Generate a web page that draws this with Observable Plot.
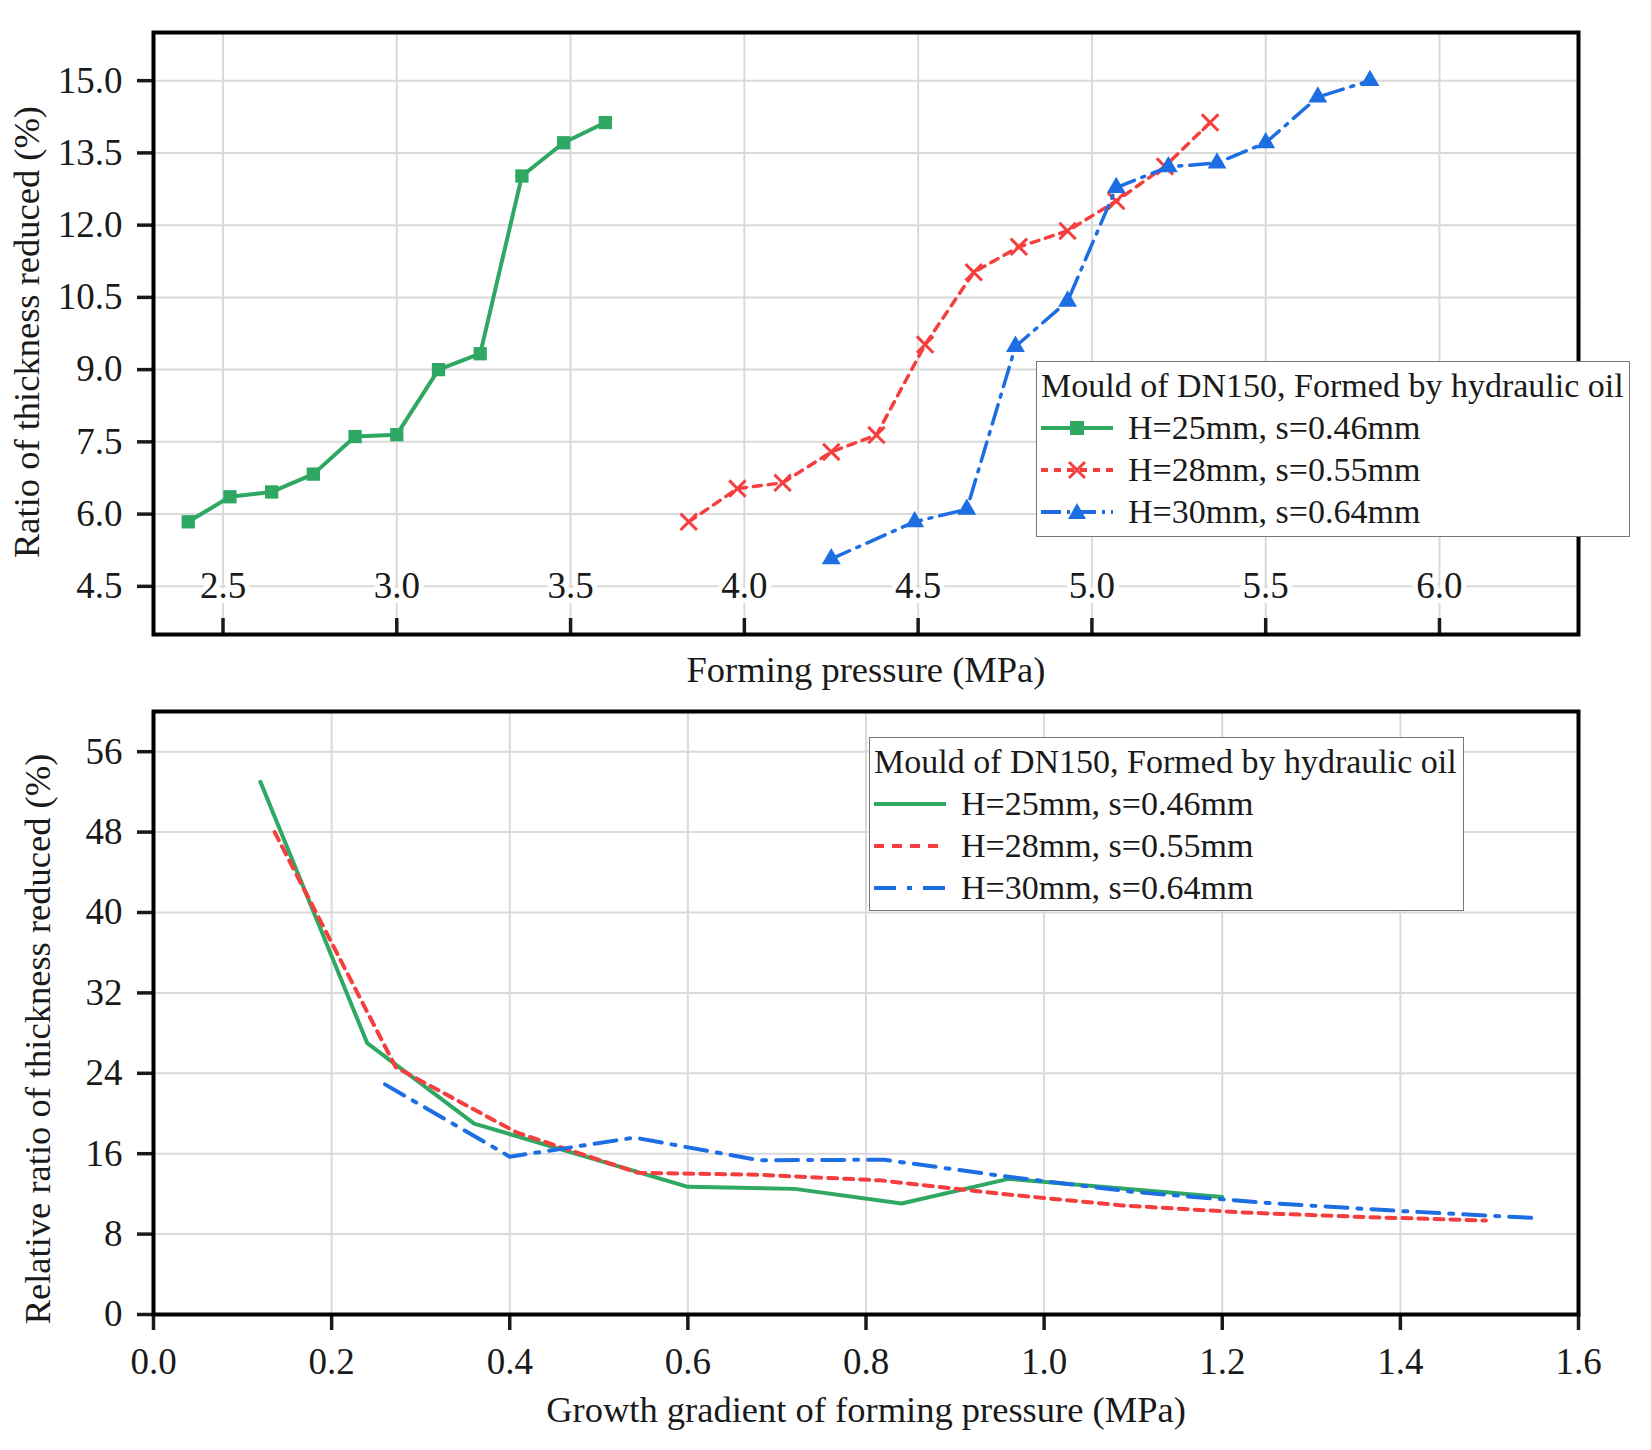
<!DOCTYPE html>
<html>
<head>
<meta charset="utf-8">
<script src="https://cdn.jsdelivr.net/npm/d3@7"></script>
<script src="https://cdn.jsdelivr.net/npm/@observablehq/plot@0.6"></script>
<style>
  body { margin: 0; background: #fff; }
  #fig { position: relative; width: 1651px; height: 1450px; font-family: "Liberation Serif", serif; color: #1a1a1a; }
  .chart { position: absolute; left: 0; }
  .title { position: absolute; font-size: 36.5px; white-space: nowrap; transform: translate(-50%, -50%); }
  .ytitle { position: absolute; font-size: 36.5px; white-space: nowrap; width: 800px; text-align: center; transform: translate(-50%, -50%) rotate(-90deg); }
  .legend { position: absolute; background: #fff; border: 1.5px solid #777; box-sizing: border-box; font-size: 34px; padding: 2px 4px; }
  .legend .head { height: 43px; line-height: 43px; }
  .legend .row { height: 42px; display: flex; align-items: center; }
  .legend .row svg { flex: none; margin-right: 15px; }
</style>
</head>
<body>
<div id="fig">
  <div id="top" class="chart" style="top:0"></div>
  <div id="bottom" class="chart" style="top:700px"></div>
  <div class="title" style="left:866px; top:669px">Forming pressure (MPa)</div>
  <div class="ytitle" style="left:26px; top:332px">Ratio of thickness reduced (%)</div>
  <div class="title" style="left:866px; top:1409px">Growth gradient of forming pressure (MPa)</div>
  <div class="ytitle" style="left:37px; top:1039px">Relative ratio of thickness reduced (%)</div>
  <div id="legendTop" class="legend" style="left:1036px; top:361px; width:594px; height:176px"></div>
  <div id="legendBottom" class="legend" style="left:869px; top:737px; width:595px; height:174px"></div>
</div>
<script>
const green = "#2ea862";
const red = "#f53e3e";
const blue = "#1d6de3";

const seriesNames = ["H=25mm, s=0.46mm", "H=28mm, s=0.55mm", "H=30mm, s=0.64mm"];
const legendTitle = "Mould of DN150, Formed by hydraulic oil";

// top chart: forming pressure vs ratio of thickness reduced
const pressureTicks = [2.5, 3.0, 3.5, 4.0, 4.5, 5.0, 5.5, 6.0];
const ratioTicks = [4.5, 6.0, 7.5, 9.0, 10.5, 12.0, 13.5, 15.0];

const h25Pressure = [2.40, 2.52, 2.64, 2.76, 2.88, 3.00, 3.12, 3.24, 3.36, 3.48, 3.60];
const h25Ratio = [5.84, 6.36, 6.46, 6.83, 7.61, 7.65, 9.00, 9.33, 13.02, 13.71, 14.13];

const h28Pressure = [3.84, 3.98, 4.11, 4.25, 4.38, 4.52, 4.66, 4.79, 4.93, 5.07, 5.21, 5.34];
const h28Ratio = [5.84, 6.53, 6.65, 7.29, 7.64, 9.52, 11.02, 11.55, 11.88, 12.50, 13.22, 14.13];

const h30Pressure = [4.25, 4.49, 4.64, 4.78, 4.93, 5.07, 5.22, 5.36, 5.50, 5.65, 5.80];
const h30Ratio = [5.07, 5.84, 6.10, 9.48, 10.42, 12.78, 13.21, 13.29, 13.71, 14.66, 15.00];

// bottom chart: growth gradient vs relative ratio
const gradientTicks = [0.0, 0.2, 0.4, 0.6, 0.8, 1.0, 1.2, 1.4, 1.6];
const relativeTicks = [0, 8, 16, 24, 32, 40, 48, 56];

const h25Gradient = [0.12, 0.24, 0.36, 0.60, 0.72, 0.84, 0.96, 1.20];
const h25Relative = [53.0, 27.0, 19.0, 12.7, 12.5, 11.05, 13.5, 11.7];

const h28Gradient = [0.136, 0.272, 0.408, 0.544, 0.68, 0.816, 0.952, 1.088, 1.224, 1.36, 1.496];
const h28Relative = [48.0, 24.6, 18.1, 14.1, 13.9, 13.35, 12.0, 10.85, 10.15, 9.7, 9.35];

const h30Gradient = [0.26, 0.40, 0.54, 0.68, 0.82, 0.96, 1.10, 1.25, 1.40, 1.55];
const h30Relative = [22.9, 15.7, 17.6, 15.35, 15.4, 13.7, 12.2, 11.1, 10.3, 9.6];

const pairs = (xs, ys) => xs.map((x, i) => ({x, y: ys[i]}));

const style = {
    fontFamily: "Liberation Serif",
    fontSize: "37px",
    color: "#1a1a1a",
    background: "none",
    overflow: "visible",
};
const gridStyle = {stroke: "#dadada", strokeOpacity: 1, strokeWidth: 2};
const fmt1 = d3.format(".1f");

const topChart = Plot.plot({
    width: 1651,
    height: 700,
    marginLeft: 153,
    marginRight: 73,
    marginTop: 32,
    marginBottom: 66,
    style,
    x: {domain: [2.3, 6.4]},
    y: {domain: [3.5, 16.0]},
    marks: [
        Plot.gridX(pressureTicks, gridStyle),
        Plot.gridY(ratioTicks, gridStyle),
        // x labels sit inside the frame, on the 4.5 line
        Plot.text(pressureTicks, {
            x: (d) => d,
            y: () => 4.5,
            text: fmt1,
            fill: "#1a1a1a",
            stroke: "white",
            strokeWidth: 10,
            fontSize: 37,
        }),
        Plot.axisX(pressureTicks, {
            anchor: "bottom",
            tickSize: 16,
            dy: -16,
            tickFormat: () => "",
            strokeWidth: 3.5,
            label: null,
        }),
        Plot.axisY(ratioTicks, {
            anchor: "left",
            tickSize: 16,
            tickPadding: 15,
            tickFormat: fmt1,
            strokeWidth: 3.5,
            fontSize: 37,
            label: null,
        }),
        Plot.frame({stroke: "black", strokeWidth: 4}),

        Plot.line(pairs(h25Pressure, h25Ratio), {x: "x", y: "y", stroke: green, strokeWidth: 4}),
        Plot.dot(pairs(h25Pressure, h25Ratio), {x: "x", y: "y", symbol: "square", fill: green, r: 7.5}),

        Plot.line(pairs(h28Pressure, h28Ratio), {x: "x", y: "y", stroke: red, strokeWidth: 3.5, strokeDasharray: "8,7"}),
        Plot.dot(pairs(h28Pressure, h28Ratio), {x: "x", y: "y", symbol: "times", stroke: red, strokeWidth: 3, r: 7.5}),

        Plot.line(pairs(h30Pressure, h30Ratio), {x: "x", y: "y", stroke: blue, strokeWidth: 3.5, strokeDasharray: "20,8,3,8"}),
        Plot.dot(pairs(h30Pressure, h30Ratio), {x: "x", y: "y", symbol: "triangle", fill: blue, r: 7}),
    ],
});
document.querySelector("#top").append(topChart);

const bottomChart = Plot.plot({
    width: 1651,
    height: 750,
    marginLeft: 153,
    marginRight: 73,
    marginTop: 11,
    marginBottom: 136,
    style,
    x: {domain: [0, 1.6]},
    y: {domain: [0, 60]},
    marks: [
        Plot.gridX(gradientTicks, gridStyle),
        Plot.gridY(relativeTicks, gridStyle),
        Plot.axisX(gradientTicks, {
            anchor: "bottom",
            tickSize: 16,
            tickPadding: 17,
            tickFormat: fmt1,
            strokeWidth: 3.5,
            fontSize: 37,
            label: null,
        }),
        Plot.axisY(relativeTicks, {
            anchor: "left",
            tickSize: 16,
            tickPadding: 15,
            strokeWidth: 3.5,
            fontSize: 37,
            label: null,
        }),
        Plot.frame({stroke: "black", strokeWidth: 4}),

        Plot.line(pairs(h25Gradient, h25Relative), {x: "x", y: "y", stroke: green, strokeWidth: 4}),
        Plot.line(pairs(h28Gradient, h28Relative), {x: "x", y: "y", stroke: red, strokeWidth: 4, strokeDasharray: "9,7"}),
        Plot.line(pairs(h30Gradient, h30Relative), {x: "x", y: "y", stroke: blue, strokeWidth: 4, strokeDasharray: "22,10,4,10"}),
    ],
});
document.querySelector("#bottom").append(bottomChart);

// legends
const markerSvg = {
    square: `<rect x="29" y="8" width="14" height="14" fill="${green}"/>`,
    times: `<path d="M28,7L44,23M44,7L28,23" stroke="${red}" stroke-width="3"/>`,
    triangle: `<path d="M36,6L45,22L27,22Z" fill="${blue}"/>`,
};

function swatch(color, dash, marker) {
    return `<svg width="72" height="30">
        <line x1="0" y1="15" x2="72" y2="15" stroke="${color}" stroke-width="4"
            ${dash ? `stroke-dasharray="${dash}"` : ""}/>
        ${marker ? markerSvg[marker] : ""}
    </svg>`;
}

function fillLegend(id, swatches) {
    const div = document.getElementById(id);
    div.innerHTML =
        `<div class="head">${legendTitle}</div>` +
        seriesNames
            .map((name, i) => `<div class="row">${swatches[i]}<span>${name}</span></div>`)
            .join("");
}

fillLegend("legendTop", [
    swatch(green, null, "square"),
    swatch(red, "7,6", "times"),
    swatch(blue, "20,6,3,6", "triangle"),
]);
fillLegend("legendBottom", [
    swatch(green, null, null),
    swatch(red, "10,8", null),
    swatch(blue, "22,11,5,11", null),
]);
</script>
</body>
</html>
